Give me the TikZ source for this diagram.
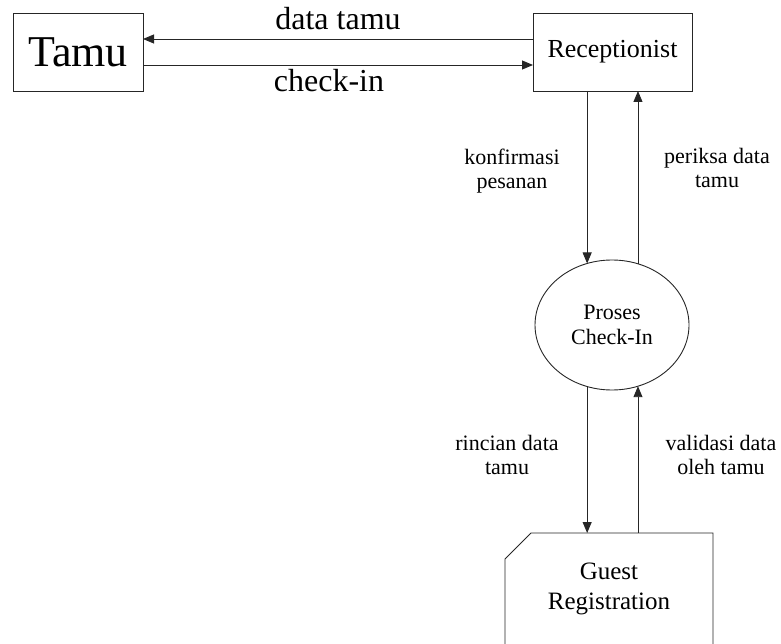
\documentclass[tikz,border=0pt]{standalone}
\usepackage{fontspec}
\setmainfont{Liberation Serif}
\usetikzlibrary{arrows.meta,shapes.geometric,calc}
\tikzset{
  ln/.style={line width=0.9pt, draw=black!85},
  arr/.style={ln, -{Triangle[length=11pt,width=9pt]}},
  boxnode/.style={ln, rectangle, inner sep=0pt, outer sep=0pt},
  lbl/.style={align=center, inner sep=0pt, font=\fontsize{22}{24}\selectfont},
  biglbl/.style={inner sep=0pt, font=\fontsize{32}{36}\selectfont}
}
\begin{document}
\begin{tikzpicture}[x=1pt,y=-1pt]
\useasboundingbox (0,0) rectangle (781,644);
\node[boxnode, minimum width=130pt, minimum height=78pt,
      font=\fontsize{44}{50}\selectfont] (tamu) at (78,52) {Tamu};
\node[boxnode, minimum width=159pt, minimum height=78pt,
      font=\fontsize{26}{30}\selectfont] (recep) at (612.5,52) {Receptionist};
\node[ln, ellipse, minimum width=154pt, minimum height=130pt, inner sep=0pt, outer sep=0pt,
      align=center, font=\fontsize{22}{25}\selectfont] (proc) at (612,325) {Proses\\Check-In};
\node[rectangle, minimum width=208pt, minimum height=111pt, inner sep=0pt, outer sep=0pt,
      align=center, font=\fontsize{25}{30}\selectfont] (guest) at (609,588.5) {Guest\\Registration};
\draw[ln] (guest.south west) -- ($(guest.north west)+(0,26)$) -- ($(guest.north west)+(26,0)$)
  -- (guest.north east) -- (guest.south east);
% horizontal flows
\draw[arr] ([yshift=13pt]recep.west) -- ([yshift=13pt]tamu.east);
\draw[arr] ([yshift=-13pt]tamu.east) -- ([yshift=-13pt]recep.west);
\node[biglbl, anchor=base] (l1) at (338,30) {data tamu};
\node[biglbl, anchor=base] (l2) at (329,92) {check-in};
% vertical flows
\draw[arr] (recep.south -| proc.112.1) -- (proc.112.1);
\draw[arr] (proc.67) -- (recep.south -| proc.67);
\draw[arr] (proc.-112.1) -- (guest.north -| proc.-112.1);
\draw[arr] (guest.north -| proc.-67) -- (proc.-67);
\node[lbl, anchor=base] (l3) at (512,189) {konfirmasi\\pesanan};
\node[lbl, anchor=base] (l4) at (717,188) {periksa data\\tamu};
\node[lbl, anchor=base] (l5) at (507,474) {rincian data\\tamu};
\node[lbl, anchor=base] (l6) at (721,474) {validasi data\\oleh tamu};
\end{tikzpicture}
\end{document}
